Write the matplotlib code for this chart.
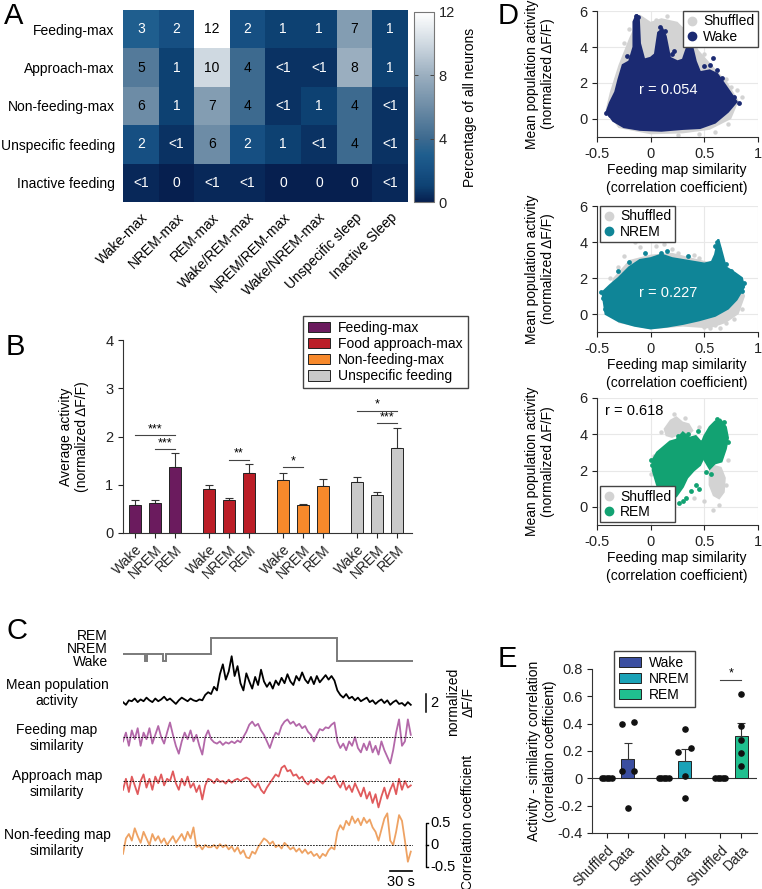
import numpy as np
import matplotlib
matplotlib.use("Agg")
import matplotlib.pyplot as plt
from matplotlib.colors import LinearSegmentedColormap
from matplotlib.patches import Patch
from matplotlib.lines import Line2D

plt.rcParams['font.family'] = ['Liberation Sans', 'DejaVu Sans']
plt.rcParams['font.size'] = 9.5
plt.rcParams['axes.linewidth'] = 0.8

# ---------------------------------------------------------------- data
# A: heatmap (percentage of all neurons)
a_rows = ['Feeding-max', 'Approach-max', 'Non-feeding-max', 'Unspecific feeding', 'Inactive feeding']
a_cols = ['Wake-max', 'NREM-max', 'REM-max', 'Wake/REM-max', 'NREM/REM-max',
          'Wake/NREM-max', 'Unspecific sleep', 'Inactive Sleep']
a_pct = [[3, 2, 12, 2, 1, 1, 7, 1],
         [5, 1, 10, 4, 0.6, 0.6, 8, 1],
         [6, 1, 7, 4, 0.6, 1, 4, 0.6],
         [2, 0.6, 6, 2, 1, 0.6, 4, 0.6],
         [0.3, 0, 0.3, 0.3, 0, 0, 0, 0.3]]
a_text = [['3', '2', '12', '2', '1', '1', '7', '1'],
          ['5', '1', '10', '4', '<1', '<1', '8', '1'],
          ['6', '1', '7', '4', '<1', '1', '4', '<1'],
          ['2', '<1', '6', '2', '1', '<1', '4', '<1'],
          ['<1', '0', '<1', '<1', '0', '0', '0', '<1']]

# B: average activity per group and state
b_groups = ['Feeding-max', 'Food approach-max', 'Non-feeding-max', 'Unspecific feeding']
b_states = ['Wake', 'NREM', 'REM']
b_mean = [[0.59, 0.63, 1.37], [0.91, 0.68, 1.25], [1.09, 0.57, 0.97], [1.05, 0.79, 1.77]]
b_err_top = [[0.68, 0.68, 1.65], [1.00, 0.73, 1.42], [1.24, 0.61, 1.12], [1.16, 0.86, 2.18]]
b_sig = [(0, 0, 2, 2.03, '***'), (0, 1, 2, 1.74, '***'), (1, 1, 2, 1.52, '**'),
         (2, 0, 1, 1.36, '*'), (3, 0, 2, 2.53, '*'), (3, 1, 2, 2.28, '***')]

# C: example traces (4 s per sample)
hyp_segments = [(0, 30, 'NREM'), (30, 33, 'Wake'), (33, 55, 'NREM'), (55, 59, 'Wake'),
                (59, 120, 'NREM'), (120, 291, 'REM'), (291, 395, 'Wake')]
act = [0.1, -0.2, 0.3, 0.2, 0.5, 0.1, 0.4, 0.2, 0.6, 0.3, 0.1, 0.5, 0.2, 0.4, 0.7,
       0.3, 0.5, 0.2, -0.1, 0.3, 0.6, 0.4, 0.2, 0.5, 0.3, 0.2, 0.4, 0.3, 0.9, 1.2,
       1.0, 1.8, 1.4, 3.2, 4.3, 2.6, 3.5, 5.2, 3.0, 4.1, 2.2, 1.4, 3.3, 2.4, 1.6,
       2.9, 2.0, 3.7, 2.4, 1.8, 2.3, 1.6, 2.5, 2.0, 2.8, 2.2, 3.2, 2.4, 2.0, 3.0,
       2.5, 3.4, 2.6, 2.2, 2.9, 2.1, 3.0, 2.3, 2.7, 3.1, 2.6, 3.0, 2.5,
       1.4, 0.9, 0.6, 1.0, 0.5, 0.7, 0.3, 0.6, 0.2, 0.4, 0.6, 0.1, 0.3, -0.1,
       0.2, 0.4, 0.0, 0.3, -0.2, 0.1, 0.3, -0.1, 0.0, -0.3, 0.1, -0.2]
feed_sim = [-0.1, 0.1, -0.2, 0.15, -0.05, 0.2, -0.2, 0.1, -0.05, 0.2, -0.15, 0.05, 0.25,
            0.0, -0.15, 0.1, 0.33, 0.05, -0.2, -0.38, -0.1, 0.1, -0.05, 0.15, -0.1, 0.05,
            -0.2, -0.4, 0.0, 0.15,
            -0.05, -0.12, -0.15, -0.1, -0.18, -0.12, -0.15, -0.1, -0.14, -0.08, -0.12, 0.0,
            0.12, 0.28, 0.35, 0.25, 0.3, 0.15, 0.05, -0.1, -0.25, -0.05, 0.1, 0.05, 0.25,
            0.35, 0.4, 0.3, 0.35, 0.25, 0.3, 0.2, 0.25, 0.12, 0.05, -0.1, 0.05, 0.18, 0.15,
            0.22, 0.2, 0.28, 0.33,
            -0.1, -0.25, -0.15, -0.3, -0.1, -0.2, 0.0, -0.25, -0.35, -0.15, -0.3, -0.1,
            -0.35, -0.2, -0.4, -0.1, -0.3, -0.45, -0.6, -0.3, 0.1, 0.4, -0.2, -0.1, 0.4, 0.05]
appr_sim = [-0.2, 0.05, -0.25, 0.1, -0.1, -0.3, 0.0, 0.15, -0.15, 0.05, -0.2, 0.1, -0.05,
            0.15, -0.1, 0.05, 0.0, 0.22, -0.05, -0.2, 0.05, -0.1, 0.1, -0.15, -0.05, -0.25,
            -0.1, -0.42, -0.1, 0.05,
            0.02, -0.05, 0.05, -0.02, 0.0, -0.06, 0.03, -0.04, 0.02, 0.05, 0.0, 0.05, 0.08,
            0.04, -0.08, -0.15, -0.05, -0.2, -0.28, -0.15, -0.05, 0.05, 0.15, 0.1, 0.3, 0.35,
            0.22, 0.25, 0.12, 0.15, 0.05, 0.1, -0.02, -0.08, 0.02, -0.05, 0.05, 0.0, -0.06,
            0.03, 0.1, 0.05, 0.12,
            -0.05, -0.15, 0.0, -0.2, -0.1, -0.25, -0.05, -0.2, -0.35, -0.15, -0.4, -0.25,
            -0.5, -0.3, -0.6, -0.35, -0.15, -0.4, -0.2, -0.05, -0.3, 0.05, -0.2, 0.0, -0.15, -0.1]
nonf_sim = [-0.2, 0.15, 0.25, 0.1, 0.38, 0.2, 0.05, 0.3, 0.15, 0.0, 0.25, 0.1, 0.2, 0.05,
            0.15, 0.0, 0.1, 0.2, 0.05, 0.15, 0.25, 0.1, 0.3, 0.15, 0.4, -0.05, 0.0, -0.1,
            0.0, -0.05,
            -0.05, 0.0, -0.08, 0.02, -0.05, 0.0, -0.1, -0.03, -0.15, -0.05, -0.2, -0.12,
            -0.28, -0.3, -0.15, -0.2, -0.05, 0.05, 0.15, 0.1, 0.02, 0.08, -0.05, 0.0, -0.08,
            0.05, -0.02, -0.1, -0.05, -0.15, -0.08, -0.18, -0.1, -0.2, -0.15, -0.25, -0.2,
            -0.3, -0.2, -0.25, -0.12, -0.05, -0.1,
            0.3, 0.45, 0.35, 0.55, 0.45, 0.65, 0.5, 0.6, 0.45, 0.62, 0.5, 0.58, 0.4, 0.3,
            0.1, 0.35, 0.6, 0.72, 0.1, 0.0, 0.3, 0.68, 0.55, 0.1, -0.38, -0.15]

# D: envelopes of the dense point clouds and the sparse points around them
wake_core_x = [-0.41, -0.35, -0.25, -0.1, 0.1, 0.3, 0.46, 0.6, 0.72, 0.8, 0.75, 0.68, 0.62,
               0.55, 0.46, 0.42, 0.38, 0.34, 0.3, 0.25, 0.18, 0.14, 0.11, 0.07, 0.04, 0.0,
               -0.06, -0.1, -0.11, -0.13, -0.16, -0.16, -0.2, -0.26, -0.3, -0.33, -0.38]
wake_core_y = [0.4, -0.1, -0.45, -0.6, -0.65, -0.55, -0.5, -0.2, 0.4, 0.96, 1.4, 2.0, 2.5,
               2.7, 2.6, 3.2, 4.2, 4.0, 3.3, 3.2, 3.4, 4.6, 5.0, 4.8, 3.6, 3.4, 3.3, 4.2,
               5.5, 5.8, 5.4, 4.0, 3.2, 3.0, 2.2, 1.5, 0.9]
wake_pts_x = [0.58, 0.55, 0.5, 0.62, 0.66, 0.78, 0.82, -0.42, -0.38, 0.2, 0.22, -0.22, 0.4,
              0.36, 0.09, 0.13, -0.14, -0.12]
wake_pts_y = [3.4, 3.0, 2.95, 2.7, 2.3, 1.2, 0.9, 0.35, 0.2, 3.6, 3.8, 3.5, 4.3, 4.1, 5.1,
              4.9, 5.75, 5.65]
shuf1_x = [-0.42, -0.3, 0.0, 0.3, 0.55, 0.75, 0.82, 0.72, 0.6, 0.45, 0.35, 0.25, 0.1, 0.0,
           -0.1, -0.2, -0.3, -0.38]
shuf1_y = [0.5, -0.5, -0.85, -0.8, -0.6, 0.0, 1.0, 2.0, 2.8, 3.8, 4.8, 5.4, 5.6, 5.4, 5.8,
           4.5, 3.0, 1.5]
shuf1_pts_x = [-0.25, -0.2, 0.05, 0.15, 0.2, 0.3, 0.45, 0.5, 0.7, 0.75, 0.8, 0.72, 0.6,
               0.45, 0.25, -0.32, -0.36, 0.4, -0.08, 0.85]
shuf1_pts_y = [4.2, 5.0, 5.5, 5.7, 5.2, 5.0, 4.3, 3.6, 2.2, 1.8, 1.6, -0.3, -0.7, -0.85,
               -0.9, 2.2, 1.0, 4.6, 5.5, 1.2]

nrem_core_x = [-0.45, -0.42, -0.3, -0.15, 0.0, 0.15, 0.3, 0.45, 0.6, 0.72, 0.8, 0.87, 0.85,
               0.78, 0.7, 0.66, 0.63, 0.6, 0.57, 0.5, 0.4, 0.3, 0.2, 0.1, 0.0, -0.1, -0.2,
               -0.3, -0.38]
nrem_core_y = [1.2, 0.0, -0.4, -0.65, -0.8, -0.7, -0.55, -0.35, -0.1, 0.3, 0.8, 1.5, 2.0,
               2.3, 2.6, 3.5, 4.15, 3.3, 2.9, 2.8, 2.9, 3.0, 3.1, 3.3, 3.1, 3.0, 2.6, 2.0, 1.6]
nrem_pts_x = [-0.46, -0.44, -0.43, 0.87, 0.85, 0.62, 0.6, 0.64, 0.7, 0.75, -0.2, -0.05,
              0.1, 0.35, 0.15, -0.3]
nrem_pts_y = [1.2, 0.9, 0.3, 1.7, 1.3, 4.0, 3.8, 3.6, 2.8, 2.4, 2.9, 3.4, 3.4, 3.2, 3.5, 2.4]
shuf2_x = [-0.4, -0.3, 0.0, 0.3, 0.55, 0.7, 0.82, 0.88, 0.8, 0.6, 0.4, 0.2, 0.0, -0.2, -0.35]
shuf2_y = [1.0, -0.5, -0.85, -0.7, -0.8, -0.5, 0.0, 1.0, 2.2, 2.8, 3.1, 3.4, 3.3, 3.0, 2.0]
shuf2_pts_x = [-0.15, -0.1, 0.0, 0.05, 0.12, 0.2, 0.25, 0.4, 0.45, -0.25, -0.3, 0.5, 0.6,
               0.7, 0.78, 0.85, 0.83, 0.65, 0.72, -0.38, 0.55]
shuf2_pts_y = [4.0, 3.7, 4.1, 3.8, 3.9, 3.6, 3.4, 3.3, 3.1, 3.2, 2.6, -0.7, -0.6, -0.5,
               -0.3, 0.3, 0.8, -0.8, 0.0, 2.0, -0.75]

rem_left_x = [0.02, 0.06, 0.12, 0.18, 0.24, 0.3, 0.34, 0.4, 0.46, 0.5, 0.48, 0.42, 0.36,
              0.3, 0.24, 0.18, 0.12, 0.06, 0.02]
rem_left_y = [2.0, 1.2, 0.7, 0.3, 0.6, 1.1, 1.6, 2.0, 2.3, 2.8, 3.5, 3.9, 3.8, 4.1, 3.7,
              3.6, 3.3, 3.0, 2.6]
rem_right_x = [0.5, 0.55, 0.6, 0.66, 0.7, 0.72, 0.7, 0.65, 0.6, 0.55, 0.5, 0.46]
rem_right_y = [2.6, 2.1, 2.4, 2.5, 3.2, 3.8, 4.4, 4.8, 4.7, 4.4, 3.9, 3.3]
rem_pts_x = [0.0, 0.01, 0.42, 0.45, 0.38, 0.3, 0.26, 0.33, 0.52, 0.56, 0.62, 0.68, 0.72,
             0.08, 0.14, 0.2, 0.35, 0.44, 0.48, 0.25]
rem_pts_y = [2.6, 2.3, 1.2, 1.0, 0.9, 0.3, 0.2, 0.5, 1.9, 1.8, 4.85, 4.7, 3.6, 0.8, 0.4,
             0.1, 4.0, 4.2, 3.6, 3.9]
shuf3a_x = [0.12, 0.18, 0.24, 0.3, 0.36, 0.4, 0.35, 0.28, 0.2, 0.14]
shuf3a_y = [4.3, 4.8, 5.0, 4.7, 4.6, 4.2, 3.9, 4.0, 3.8, 3.9]
shuf3b_x = [0.54, 0.6, 0.66, 0.7, 0.69, 0.64, 0.58, 0.54]
shuf3b_y = [2.0, 2.3, 2.2, 1.6, 0.8, 0.4, 0.6, 1.2]
shuf3_pts_x = [0.1, 0.22, 0.32, 0.45, 0.03, 0.0, 0.05, 0.5, 0.58, 0.64, 0.7, 0.72, 0.66,
               0.2, 0.15, 0.4, 0.28]
shuf3_pts_y = [4.1, 5.1, 4.9, 4.4, 2.8, 1.8, 1.0, 0.3, -0.2, 0.1, 1.2, 2.6, 3.0, 0.0,
               0.3, 0.5, 3.4]

# E: activity-similarity correlation per animal
e_states = ['Wake', 'NREM', 'REM']
e_shuffled = [[0, 0, 0, 0, 0], [0, 0, 0, 0, 0], [0, 0, 0, 0, 0]]
e_data = [[0.40, 0.41, 0.055, 0.055, -0.22],
          [0.36, 0.225, 0.19, 0.02, -0.145],
          [0.62, 0.385, 0.28, 0.185, 0.09]]
e_err_top = [0.26, 0.215, 0.405]

# ---------------------------------------------------------------- layout helpers
W, H = 762, 889
fig = plt.figure(figsize=(W / 100, H / 100), dpi=100)


def add_ax(l, t, r, b):
    return fig.add_axes([l / W, 1 - b / H, (r - l) / W, (b - t) / H])


def ftext(x, y, s, **kw):
    fig.text(x / W, 1 - y / H, s, **kw)


def style_axes(ax):
    ax.spines['top'].set_visible(False)
    ax.spines['right'].set_visible(False)
    ax.spines['left'].set_color('#333333')
    ax.spines['bottom'].set_color('#333333')
    ax.tick_params(colors='#222222', length=3.5, width=0.8, labelsize=10.5)


for lbl, x, y in [('A', 4, 2), ('B', 6, 333), ('C', 6, 617), ('D', 498, 2), ('E', 498, 645)]:
    ftext(x, y, lbl, fontsize=21, va='top', ha='left')

# ---------------------------------------------------------------- A
cmap = LinearSegmentedColormap.from_list(
    'bluegray',
    [(0, '#061f4f'), (1 / 12, '#0e4273'), (2 / 12, '#175083'), (3 / 12, '#1f5e8e'),
     (4 / 12, '#3d6a8f'), (6 / 12, '#6d8ca6'), (8 / 12, '#9aaebf'), (10 / 12, '#cfd9e1'),
     (1, '#ffffff')])
axA = add_ax(123, 10, 408, 202)
im = axA.imshow(np.array(a_pct), cmap=cmap, vmin=0, vmax=12, aspect='auto')
for i in range(len(a_rows)):
    for j in range(len(a_cols)):
        col = 'black' if a_pct[i][j] >= 4 else 'white'
        axA.text(j, i, a_text[i][j], ha='center', va='center', color=col, fontsize=10)
axA.set_yticks(range(len(a_rows)))
axA.set_yticklabels(a_rows, fontsize=10)
axA.set_xticks(range(len(a_cols)))
axA.set_xticklabels(a_cols, rotation=45, ha='right', rotation_mode='anchor', fontsize=10)
axA.tick_params(length=0, pad=6)
for s in axA.spines.values():
    s.set_visible(False)

cax = add_ax(414, 12, 434, 202)
cb = fig.colorbar(im, cax=cax, ticks=[0, 4, 8, 12])
cb.outline.set_edgecolor('#777777')
cb.outline.set_linewidth(0.8)
cax.tick_params(direction='in', length=3, width=0.7, colors='#444444', labelsize=10.5,
                left=True, right=True, labelcolor='#222222')
ftext(470, 107, 'Percentage of all neurons', rotation=90, ha='center', va='center', fontsize=10)

# ---------------------------------------------------------------- B
b_colors = ['#6b1b5e', '#bb1e27', '#f7892b', '#c9c9c9']
axB = add_ax(123, 340, 412, 533)
style_axes(axB)
xt, xl = [], []
for g in range(len(b_groups)):
    xs = [g * 3.7 + i for i in range(len(b_states))]
    axB.bar(xs, b_mean[g], width=0.62, color=b_colors[g], edgecolor='#222222', linewidth=0.7,
            zorder=2)
    err = [t - m for t, m in zip(b_err_top[g], b_mean[g])]
    axB.errorbar(xs, b_mean[g], yerr=[[0] * len(xs), err], fmt='none', ecolor='#333333',
                 elinewidth=0.8, capsize=3, capthick=0.8, zorder=1)
    xt += xs
    xl += b_states
for g, i, j, y, s in b_sig:
    x0, x1 = g * 3.7 + i, g * 3.7 + j
    axB.plot([x0, x1], [y, y], color='#444444', lw=0.8)
    axB.text((x0 + x1) / 2, y + 0.0, s, ha='center', va='bottom', fontsize=9)
axB.set_xticks(xt)
axB.set_xticklabels(xl, rotation=45, ha='right', rotation_mode='anchor', fontsize=10)
axB.set_xlim(-0.6, 13.85)
axB.set_ylim(0, 4)
axB.set_yticks([0, 1, 2, 3, 4])
ftext(74, 437, 'Average activity\n(normalized ΔF/F)', rotation=90, ha='center',
      va='center', fontsize=10, multialignment='center')
handles = [Patch(facecolor=c, edgecolor='#222222', linewidth=0.7) for c in b_colors]
axB.legend(handles, b_groups, loc='upper left', bbox_to_anchor=(296 / W, 1 - 309 / H),
           bbox_transform=fig.transFigure, frameon=True, fancybox=False, edgecolor='#444444',
           fontsize=10, handlelength=1.6, handleheight=0.8, labelspacing=0.15,
           borderpad=0.35, handletextpad=0.6, framealpha=1)

# ---------------------------------------------------------------- C
state_level = {'Wake': 0, 'NREM': 1, 'REM': 3.3}
tl, tr = 123, 413


def trace_ax(top, bottom, ylim):
    ax = add_ax(tl, top, tr, bottom)
    ax.set_xlim(0, 395)
    ax.set_ylim(*ylim)
    ax.axis('off')
    return ax


axH = trace_ax(632, 668, (-1, 4.14))
hx, hy = [], []
for t0, t1, st in hyp_segments:
    hx += [t0, t1]
    hy += [state_level[st]] * 2
axH.plot(hx, hy, color='#7a7a7a', lw=1.4, solid_joinstyle='miter')

axAct = trace_ax(650, 715, (-1.33, 5.89))
t_act = np.arange(len(act)) * 4.0
axAct.plot(t_act, act, color='black', lw=1.3)
axAct.plot([413, 413], [-1, 1], color='black', lw=1.1, clip_on=False)
axAct.text(418, 0, '2', ha='left', va='center', fontsize=10.5, clip_on=False)

sim_specs = [(feed_sim, '#b368a9', 712, 770, 737), (appr_sim, '#e05a5c', 760, 815, 781),
             (nonf_sim, '#eea263', 805, 875, 845)]
sim_axes = []
for vals, col, top, bot, zero in sim_specs:
    ax = trace_ax(top, bot, (-(bot - zero) / 44, (zero - top) / 44))
    ax.axhline(0, color='black', lw=0.6, ls=(0, (2, 1.5)), zorder=3)
    ax.plot(np.arange(len(vals)) * 4.0, vals, color=col, lw=1.3)
    sim_axes.append(ax)

axN = sim_axes[-1]
axN.plot([415, 413, 413, 415], [0.5, 0.5, -0.5, -0.5], color='black', lw=1.0, clip_on=False)
axN.plot([413, 415], [0, 0], color='black', lw=1.0, clip_on=False)
for v, s in [(0.5, '0.5'), (0, '0'), (-0.5, '-0.5')]:
    axN.text(418, v, s, ha='left', va='center', fontsize=10.5, clip_on=False)
axN.plot([363, 393], [-0.6, -0.6], color='black', lw=1.2, clip_on=False)
axN.text(378, -0.68, '30 s', ha='center', va='top', fontsize=10.5, clip_on=False)

ftext(108, 649, 'REM\nNREM\nWake', ha='right', va='center', fontsize=10,
      multialignment='right', linespacing=0.92)
for s, y in [('Mean population\nactivity', 693), ('Feeding map\nsimilarity', 738),
             ('Approach map\nsimilarity', 784), ('Non-feeding map\nsimilarity', 843)]:
    ftext(57, y, s, ha='center', va='center', fontsize=10, multialignment='center',
          linespacing=1.25)
ftext(461, 702, 'normalized\nΔF/F', rotation=90, ha='center', va='center', fontsize=10,
      multialignment='center')
ftext(468, 822, 'Correlation coefficient', rotation=90, ha='center', va='center', fontsize=10)

# ---------------------------------------------------------------- D
shuf_col = '#d3d3d3'


def scatter_panel(top, bottom, shuf_polys, shuf_pts, data_polys, data_pts, col, name,
                  loc, anchor):
    ax = add_ax(597, top, 758, bottom)
    style_axes(ax)
    ax.set_xlim(-0.5, 1)
    ax.set_ylim(-1, 6)
    ax.set_xticks([-0.5, 0, 0.5, 1])
    ax.set_xticklabels(['-0.5', '0', '0.5', '1'])
    ax.set_yticks([0, 2, 4, 6])
    ax.grid(True, color='#e8e8e8', lw=0.8)
    ax.set_axisbelow(True)
    for px, py in shuf_polys:
        ax.fill(px, py, color=shuf_col, lw=0, zorder=2)
    ax.scatter(shuf_pts[0], shuf_pts[1], s=10, color=shuf_col, lw=0, zorder=2)
    for px, py in data_polys:
        ax.fill(px, py, color=col, lw=1.5, ec=col, zorder=3)
    ax.scatter(data_pts[0], data_pts[1], s=12, color=col, lw=0, zorder=3)
    hs = [Line2D([], [], marker='o', ls='', color=shuf_col, markersize=6),
          Line2D([], [], marker='o', ls='', color=col, markersize=6)]
    ax.legend(hs, ['Shuffled', name], loc=loc, bbox_to_anchor=anchor, frameon=True,
              fancybox=False, edgecolor='#444444', fontsize=10, handlelength=0.8,
              handletextpad=0.4, borderpad=0.25, labelspacing=0.1, borderaxespad=0,
              framealpha=1)
    ftext(677, bottom + 33, 'Feeding map similarity', ha='center', va='center', fontsize=10)
    ftext(677, bottom + 51, '(correlation coefficient)', ha='center', va='center', fontsize=10)
    ftext(540, (top + bottom) / 2, 'Mean population activity\n(normalized ΔF/F)',
          rotation=90, ha='center', va='center', fontsize=10, multialignment='center')
    return ax


axD1 = scatter_panel(11, 137, [(shuf1_x, shuf1_y)], (shuf1_pts_x, shuf1_pts_y),
                     [(wake_core_x, wake_core_y)], (wake_pts_x, wake_pts_y), '#1b2a72',
                     'Wake', 'upper right', (1.0, 1.0))
axD1.text(0.16, 1.6, 'r = 0.054', color='white', ha='center', va='center', fontsize=10.5,
          zorder=5)
axD2 = scatter_panel(206, 332, [(shuf2_x, shuf2_y)], (shuf2_pts_x, shuf2_pts_y),
                     [(nrem_core_x, nrem_core_y)], (nrem_pts_x, nrem_pts_y), '#0f8597',
                     'NREM', 'upper left', (0.02, 1.0))
axD2.text(0.16, 1.17, 'r = 0.227', color='white', ha='center', va='center', fontsize=10.5,
          zorder=5)
axD3 = scatter_panel(398, 525, [(shuf3a_x, shuf3a_y), (shuf3b_x, shuf3b_y)],
                     (shuf3_pts_x, shuf3_pts_y),
                     [(rem_left_x, rem_left_y), (rem_right_x, rem_right_y)],
                     (rem_pts_x, rem_pts_y), '#12a272', 'REM', 'lower left', (0.02, 0.02))
axD3.text(-0.15, 5.3, 'r = 0.618', color='black', ha='center', va='center', fontsize=10.5,
          zorder=5)

# ---------------------------------------------------------------- E
e_colors = ['#3b4ea0', '#1aa2b7', '#20c08f']
axE = add_ax(592, 669, 757, 833)
style_axes(axE)
axE.axhline(0, color='#333333', lw=0.8, zorder=1)
jit_shuf = [-0.24, -0.12, 0, 0.12, 0.24]
jit_data = [[-0.3, 0.3, -0.3, 0.3, 0], [0, 0.3, -0.3, 0, 0], [0, 0, 0, 0, 0]]
ext, exl = [], []
for g in range(len(e_states)):
    xs, xd = g * 2.7, g * 2.7 + 1
    m = np.mean(e_data[g])
    axE.bar([xd], [m], width=0.62, color=e_colors[g], edgecolor='#222222', lw=0.7, zorder=2)
    axE.errorbar([xd], [m], yerr=[[0], [e_err_top[g] - m]], fmt='none', ecolor='#333333',
                 elinewidth=0.8, capsize=3, capthick=0.8, zorder=2)
    axE.scatter([xs + j for j in jit_shuf], e_shuffled[g], s=14, color='#111111', zorder=4)
    axE.scatter([xd + j for j in jit_data[g]], e_data[g], s=14, color='#111111', zorder=4)
    ext += [xs, xd]
    exl += ['Shuffled', 'Data']
axE.plot([5.4, 6.4], [0.72, 0.72], color='#444444', lw=0.8)
axE.text(5.9, 0.72, '*', ha='center', va='bottom', fontsize=9)
axE.set_xlim(-0.71, 7.14)
axE.set_ylim(-0.4, 0.8)
axE.set_yticks([-0.4, -0.2, 0, 0.2, 0.4, 0.6, 0.8])
axE.set_yticklabels(['-0.4', '-0.2', '0', '0.2', '0.4', '0.6', '0.8'])
axE.set_xticks(ext)
axE.set_xticklabels(exl, rotation=45, ha='right', rotation_mode='anchor', fontsize=10)
ftext(542, 751, 'Activity - similarity correlation\n(correlation coefficient)', rotation=90,
      ha='center', va='center', fontsize=10, multialignment='center')
eh = [Patch(facecolor=c, edgecolor='#222222', linewidth=0.7) for c in e_colors]
axE.legend(eh, e_states, loc='upper left', bbox_to_anchor=(607 / W, 1 - 644 / H),
           bbox_transform=fig.transFigure, frameon=True, fancybox=False, edgecolor='#444444',
           fontsize=10, handlelength=1.6, handleheight=0.8, labelspacing=0.15,
           borderpad=0.35, handletextpad=0.6, framealpha=1)

fig.savefig('out.png', dpi=100)
